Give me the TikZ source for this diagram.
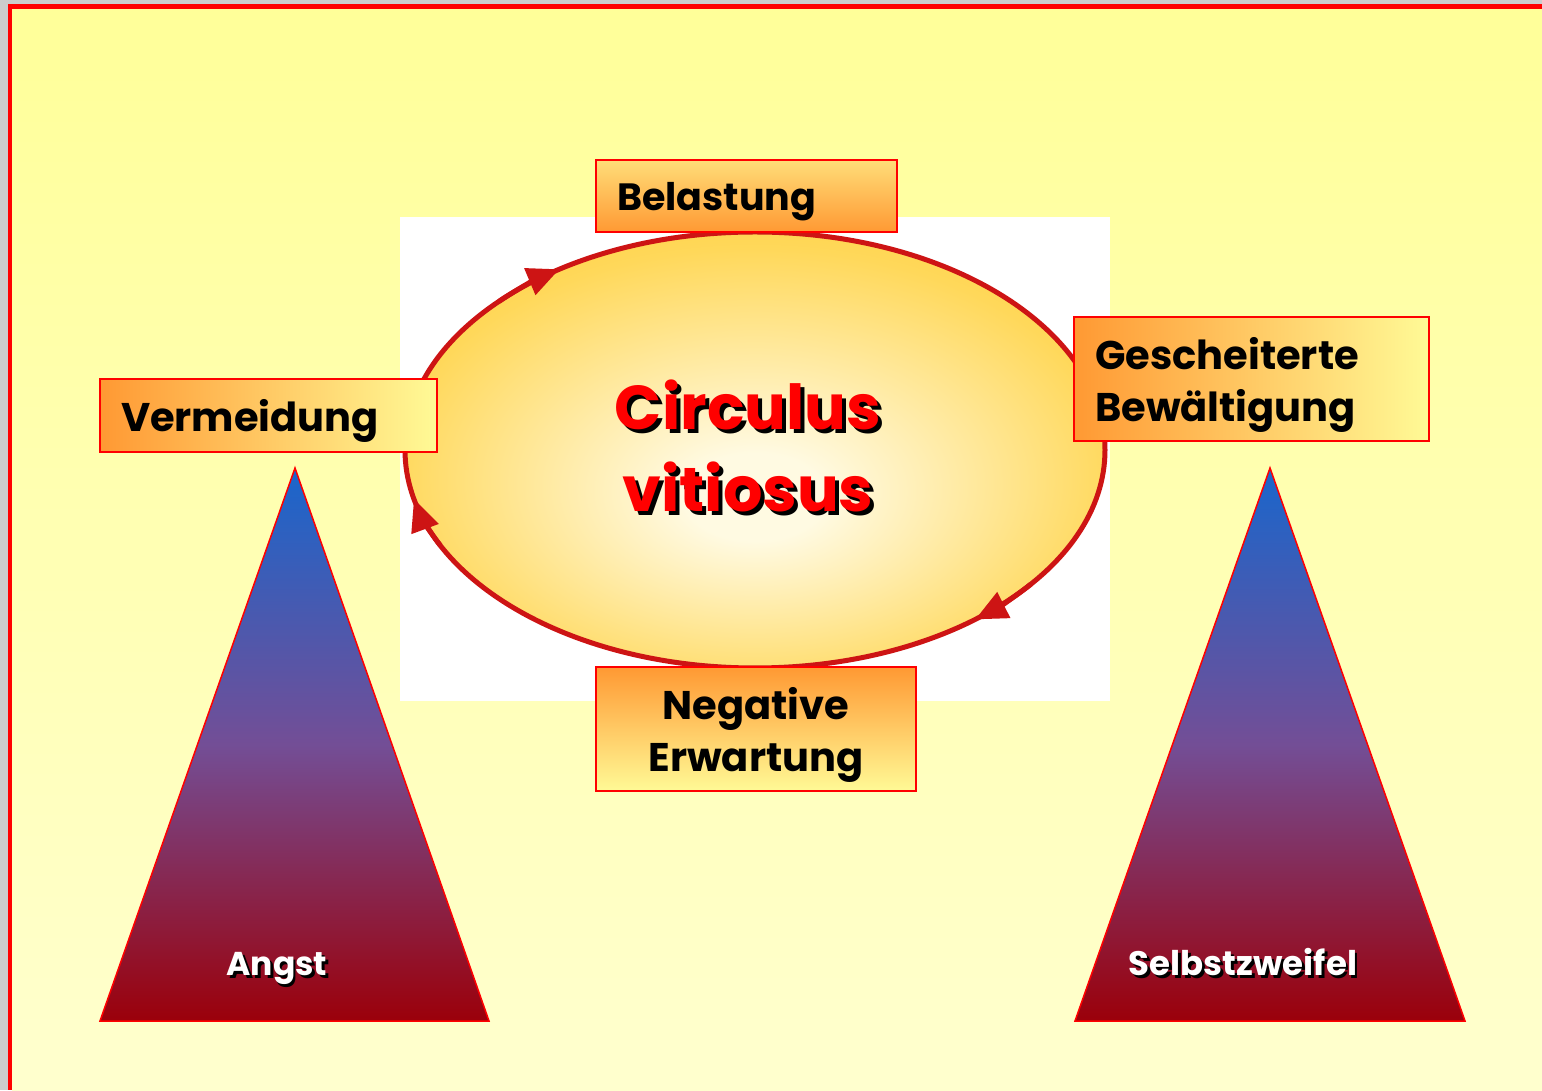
\documentclass[tikz,border=0pt]{standalone}
\usepackage{fontspec}
\setmainfont{Poppins}
\usetikzlibrary{shapes.geometric,arrows.meta}

\definecolor{gelbhell}{RGB}{255,255,153}
\definecolor{gelbblass}{RGB}{255,255,206}
\definecolor{randgrau}{RGB}{204,204,204}
\definecolor{kastenorange}{RGB}{255,153,51}
\definecolor{kastenlicht}{RGB}{255,250,150}
\definecolor{ringrot}{RGB}{205,20,20}
\definecolor{sonnenrand}{RGB}{255,196,30}
\definecolor{sonnenzwischen}{RGB}{255,216,90}
\definecolor{sonnenmitte}{RGB}{255,250,226}
\definecolor{spitzeblau}{RGB}{25,102,204}
\definecolor{mitteviolett}{RGB}{115,78,150}
\definecolor{fussrot}{RGB}{155,0,10}

\pgfdeclareradialshading{sonne}{\pgfpoint{0bp}{-6bp}}{%
  color(0bp)=(sonnenmitte); color(5bp)=(sonnenmitte);
  color(26bp)=(sonnenzwischen); color(42bp)=(sonnenrand); color(50bp)=(sonnenrand)}

% text with a hard drop shadow
\newcommand{\schattig}[2]{\makebox[0pt][l]{\hspace{#2}\raisebox{-#2}{\color{black}#1}}#1}

\tikzset{
  kasten/.style={draw=red, line width=1.5pt, inner xsep=21pt, inner ysep=0pt, text depth=0pt,
    font=\fontsize{40}{52}\selectfont\bfseries},
  zweizeilig/.style={text depth=52pt},
  quer/.style={left color=kastenorange, right color=kastenlicht},
  pyramide/.style={top color=spitzeblau, bottom color=fussrot, middle color=mitteviolett,
    draw=red, line width=1.5pt, line join=miter},
  pfeil/.style={draw=ringrot, line width=5pt, -{Triangle[length=32pt,width=28pt]}},
}

\begin{document}
\begin{tikzpicture}[x=1pt,y=1pt]
\useasboundingbox (0,0) rectangle (1542,1090);
% page and frame
\fill[randgrau] (0,0) rectangle (1542,1090);
\shade[top color=gelbhell, bottom color=gelbblass] (12,0) rectangle (1542,1081);
\fill[red] (8,0) rectangle (12,1086);
\fill[red] (8,1081) rectangle (1542,1086);

% picture of the circle
\fill[white] (400,389) rectangle (1110,873);
\node[ellipse, shade, shading=sonne, draw=ringrot, line width=5pt, inner sep=0pt,
  minimum width=700pt, minimum height=436pt] (kreis) at (755,640) {};
\draw[pfeil] ([shift={(137:350 and 218)}]kreis.center) arc[start angle=137, end angle=124, x radius=350, y radius=218];
\draw[pfeil] ([shift={(206:350 and 218)}]kreis.center) arc[start angle=206, end angle=193, x radius=350, y radius=218];
\draw[pfeil] ([shift={(322:350 and 218)}]kreis.center) arc[start angle=322, end angle=309, x radius=350, y radius=218];
\node[text=red, align=center, text depth=0pt, font=\fontsize{62}{82}\selectfont\bfseries] (titel) at (748,644)
  {\schattig{Circulus}{4pt}\\\schattig{vitiosus}{4pt}};

% the four stations
\node[kasten, top color=kastenlicht!70!kastenorange, bottom color=kastenorange, font=\fontsize{38}{52}\selectfont\bfseries,
  minimum width=301pt, minimum height=72pt, text width=259pt, align=left] (belastung) at (746.5,894) {Belastung};
\node[kasten, quer, minimum width=337pt, minimum height=73pt, text width=295pt, align=left] (vermeidung) at (268.5,674.5) {Vermeidung};
\node[kasten, quer, zweizeilig, minimum width=355pt, minimum height=124pt, text width=313pt, align=left] (gescheitert) at (1251.5,711) {Gescheiterte\\Bewältigung};
\node[kasten, zweizeilig, top color=kastenorange, bottom color=kastenlicht,
  minimum width=320pt, minimum height=124pt, text width=278pt, align=center] (erwartung) at (756,361) {Negative\\Erwartung};

% pyramids
\coordinate (lspitze) at (295,622);
\coordinate (lfuss1) at (100,69);
\coordinate (lfuss2) at (489,69);
\coordinate (rspitze) at (1270,622);
\coordinate (rfuss1) at (1075,69);
\coordinate (rfuss2) at (1465,69);
\shadedraw[pyramide] (lspitze) -- (lfuss1) -- (lfuss2) -- cycle;
\shadedraw[pyramide] (rspitze) -- (rfuss1) -- (rfuss2) -- cycle;
\node[text=white, text depth=0pt, font=\fontsize{33}{40}\selectfont\bfseries] (angst) at (277,126) {\schattig{Angst}{2.5pt}};
\node[text=white, text depth=0pt, font=\fontsize{34}{40}\selectfont\bfseries] (zweifel) at (1243,128) {\schattig{Selbstzweifel}{2.5pt}};
\end{tikzpicture}
\end{document}
